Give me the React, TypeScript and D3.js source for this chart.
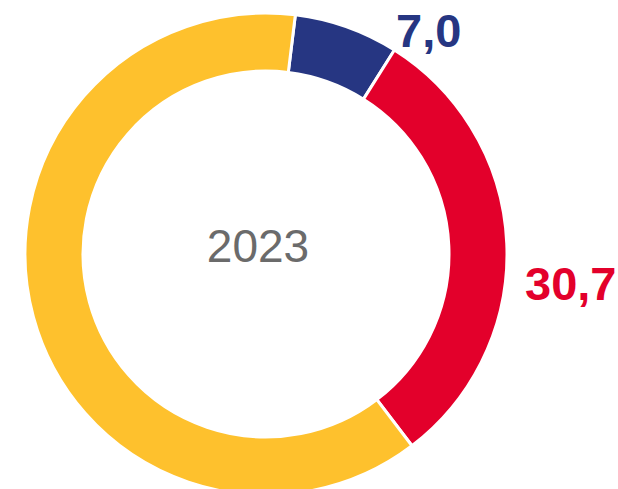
import React from "react";
import * as d3 from "d3";

const categories = ["A", "B", "C"];
const values = [7.0, 30.7, 62.3];
const colors = ["#263682", "#E3002B", "#FEC12D"];
const labels = ["7,0", "30,7", ""];
const centerLabel = "2023";

const W = 618;
const H = 489;
const cx = 266;
const cy = 254;
const rOuter = 241;
const rInner = 183;
const startDeg = 7;

export default function App() {
  const pie = d3
    .pie<number>()
    .sort(null)
    .startAngle((startDeg * Math.PI) / 180)
    .endAngle((startDeg * Math.PI) / 180 + 2 * Math.PI);
  const arcs = pie(values);
  const arc = d3.arc<d3.PieArcDatum<number>>().innerRadius(rInner).outerRadius(rOuter);

  const labelPos = [
    { x: 396, y: 47, color: colors[0] },
    { x: 525, y: 300, color: colors[1] },
  ];

  return (
    <svg
      width={W}
      height={H}
      style={{ position: "absolute", left: 0, top: 0, display: "block" }}
      fontFamily="'Liberation Sans', Arial, sans-serif"
    >
      <rect width={W} height={H} fill="#fff" />
      <g transform={`translate(${cx},${cy})`}>
        {arcs.map((a, i) => (
          <path
            key={categories[i]}
            d={arc(a) || ""}
            fill={colors[i]}
            stroke="#fff"
            strokeWidth={3}
            strokeLinejoin="miter"
          />
        ))}
      </g>
      {labelPos.map((p, i) => (
        <text
          key={i}
          x={p.x}
          y={p.y}
          fill={p.color}
          fontSize={47}
          fontWeight="bold"
        >
          {labels[i]}
        </text>
      ))}
      <text x={258} y={262} textAnchor="middle" fill="#6b6b6b" fontSize={46}>
        {centerLabel}
      </text>
    </svg>
  );
}
